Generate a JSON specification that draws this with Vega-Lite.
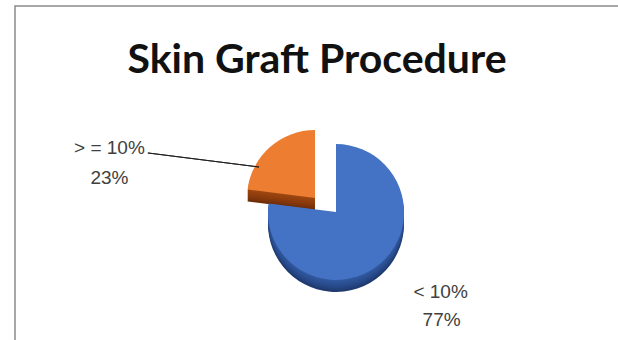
{
  "$schema": "https://vega.github.io/schema/vega-lite/v6.json",
  "autosize": "none",
  "padding": {"left": 15, "top": 6, "right": 0, "bottom": 0},
  "width": 642,
  "height": 416,
  "background": "white",
  "view": {"stroke": "#8a8a8a", "strokeWidth": 1.5, "fill": "white"},
  "config": {"view": {"stroke": "#8a8a8a", "strokeWidth": 1.5}},
  "title": {"text": "Skin Graft Procedure", "font": "Lato", "fontSize": 41, "fontWeight": "bold", "color": "#111111", "anchor": "middle", "frame": "group", "offset": -66, "baseline": "alphabetic", "dy": 42, "dx": -19},
  "data": {"values": [
    {"category": "< 10%", "share": 0.77},
    {"category": "> = 10%", "share": 0.23}
  ]},
  "transform": [
    {"stack": "share", "groupby": [], "as": ["t0", "t1"], "sort": [{"field": "share", "order": "descending"}]}
  ],
  "layer": [
    {"transform": [{"filter": "datum.category === '> = 10%'"}], "mark": {"type": "arc", "radius": 68, "xOffset": -21, "yOffset": -4, "fill": "#6f2f09"}, "encoding": {"theta": {"field": "t0", "type": "quantitative", "scale": {"domain": [0, 1]}}, "theta2": {"field": "t1"}}},
    {"transform": [{"filter": "datum.category === '> = 10%'"}], "mark": {"type": "arc", "radius": 68, "xOffset": -21, "yOffset": -6, "fill": "#7d340b"}, "encoding": {"theta": {"field": "t0", "type": "quantitative", "scale": {"domain": [0, 1]}}, "theta2": {"field": "t1"}}},
    {"transform": [{"filter": "datum.category === '> = 10%'"}], "mark": {"type": "arc", "radius": 68, "xOffset": -21, "yOffset": -8, "fill": "#88390c"}, "encoding": {"theta": {"field": "t0", "type": "quantitative", "scale": {"domain": [0, 1]}}, "theta2": {"field": "t1"}}},
    {"transform": [{"filter": "datum.category === '> = 10%'"}], "mark": {"type": "arc", "radius": 68, "xOffset": -21, "yOffset": -10, "fill": "#8f3d0d"}, "encoding": {"theta": {"field": "t0", "type": "quantitative", "scale": {"domain": [0, 1]}}, "theta2": {"field": "t1"}}},
    {"transform": [{"filter": "datum.category === '> = 10%'"}], "mark": {"type": "arc", "radius": 68, "xOffset": -21, "yOffset": -12, "fill": "#95410f"}, "encoding": {"theta": {"field": "t0", "type": "quantitative", "scale": {"domain": [0, 1]}}, "theta2": {"field": "t1"}}},
    {"transform": [{"filter": "datum.category === '> = 10%'"}], "mark": {"type": "arc", "radius": 68, "xOffset": -21, "yOffset": -14, "fill": "#9b4511"}, "encoding": {"theta": {"field": "t0", "type": "quantitative", "scale": {"domain": [0, 1]}}, "theta2": {"field": "t1"}}},
    {"transform": [{"filter": "datum.category === '> = 10%'"}], "mark": {"type": "arc", "radius": 68, "xOffset": -21, "yOffset": -16, "fill": "#ED7D31"}, "encoding": {"theta": {"field": "t0", "type": "quantitative", "scale": {"domain": [0, 1]}}, "theta2": {"field": "t1"}}},
    {"transform": [{"filter": "datum.category === '< 10%'"}], "mark": {"type": "arc", "radius": 68, "yOffset": 10, "fill": "#1f3a6e"}, "encoding": {"theta": {"field": "t0", "type": "quantitative", "scale": {"domain": [0, 1]}}, "theta2": {"field": "t1"}}},
    {"transform": [{"filter": "datum.category === '< 10%'"}], "mark": {"type": "arc", "radius": 68, "yOffset": 8, "fill": "#23417b"}, "encoding": {"theta": {"field": "t0", "type": "quantitative", "scale": {"domain": [0, 1]}}, "theta2": {"field": "t1"}}},
    {"transform": [{"filter": "datum.category === '< 10%'"}], "mark": {"type": "arc", "radius": 68, "yOffset": 6, "fill": "#274886"}, "encoding": {"theta": {"field": "t0", "type": "quantitative", "scale": {"domain": [0, 1]}}, "theta2": {"field": "t1"}}},
    {"transform": [{"filter": "datum.category === '< 10%'"}], "mark": {"type": "arc", "radius": 68, "yOffset": 4, "fill": "#2a4d8f"}, "encoding": {"theta": {"field": "t0", "type": "quantitative", "scale": {"domain": [0, 1]}}, "theta2": {"field": "t1"}}},
    {"transform": [{"filter": "datum.category === '< 10%'"}], "mark": {"type": "arc", "radius": 68, "yOffset": 2, "fill": "#2d5296"}, "encoding": {"theta": {"field": "t0", "type": "quantitative", "scale": {"domain": [0, 1]}}, "theta2": {"field": "t1"}}},
    {"transform": [{"filter": "datum.category === '< 10%'"}], "mark": {"type": "arc", "radius": 68, "yOffset": 0, "fill": "#30579c"}, "encoding": {"theta": {"field": "t0", "type": "quantitative", "scale": {"domain": [0, 1]}}, "theta2": {"field": "t1"}}},
    {"transform": [{"filter": "datum.category === '< 10%'"}], "mark": {"type": "arc", "radius": 68, "yOffset": -2, "fill": "#4472C4"}, "encoding": {"theta": {"field": "t0", "type": "quantitative", "scale": {"domain": [0, 1]}}, "theta2": {"field": "t1"}}},
    {"transform": [{"filter": "datum.category === '> = 10%'"}], "mark": {"type": "arc", "radius": 112, "radius2": 0, "xOffset": -77, "yOffset": -47, "fill": null, "stroke": "#222222", "strokeWidth": 1}, "encoding": {"theta": {"field": "t0", "type": "quantitative", "scale": {"domain": [0, 1]}}, "theta2": {"field": "t0"}}},
    {"mark": {"type": "text", "radius": 140, "dx": 12, "dy": -27, "font": "Liberation Sans", "fontSize": 19, "fill": "#404040", "align": "center", "baseline": "middle"}, "encoding": {"theta": {"field": "share", "type": "quantitative", "stack": true, "scale": {"domain": [0, 1]}}, "order": {"field": "share", "type": "quantitative", "sort": "descending"}, "text": {"condition": {"test": "datum.category === '< 10%'", "field": "category"}, "value": ""}}},
    {"mark": {"type": "text", "radius": 140, "dx": 13, "dy": 1, "font": "Liberation Sans", "fontSize": 19, "fill": "#404040", "align": "center", "baseline": "middle"}, "encoding": {"theta": {"field": "share", "type": "quantitative", "stack": true, "scale": {"domain": [0, 1]}}, "order": {"field": "share", "type": "quantitative", "sort": "descending"}, "text": {"condition": {"test": "datum.category === '< 10%'", "field": "share", "format": ".0%"}, "value": ""}}},
    {"mark": {"type": "text", "radius": 140, "dx": -134, "dy": 39, "font": "Liberation Sans", "fontSize": 19, "fill": "#404040", "align": "center", "baseline": "middle"}, "encoding": {"theta": {"field": "share", "type": "quantitative", "stack": true, "scale": {"domain": [0, 1]}}, "order": {"field": "share", "type": "quantitative", "sort": "descending"}, "text": {"condition": {"test": "datum.category === '> = 10%'", "field": "category"}, "value": ""}}},
    {"mark": {"type": "text", "radius": 140, "dx": -134, "dy": 69, "font": "Liberation Sans", "fontSize": 19, "fill": "#404040", "align": "center", "baseline": "middle"}, "encoding": {"theta": {"field": "share", "type": "quantitative", "stack": true, "scale": {"domain": [0, 1]}}, "order": {"field": "share", "type": "quantitative", "sort": "descending"}, "text": {"condition": {"test": "datum.category === '> = 10%'", "field": "share", "format": ".0%"}, "value": ""}}}
  ]
}
